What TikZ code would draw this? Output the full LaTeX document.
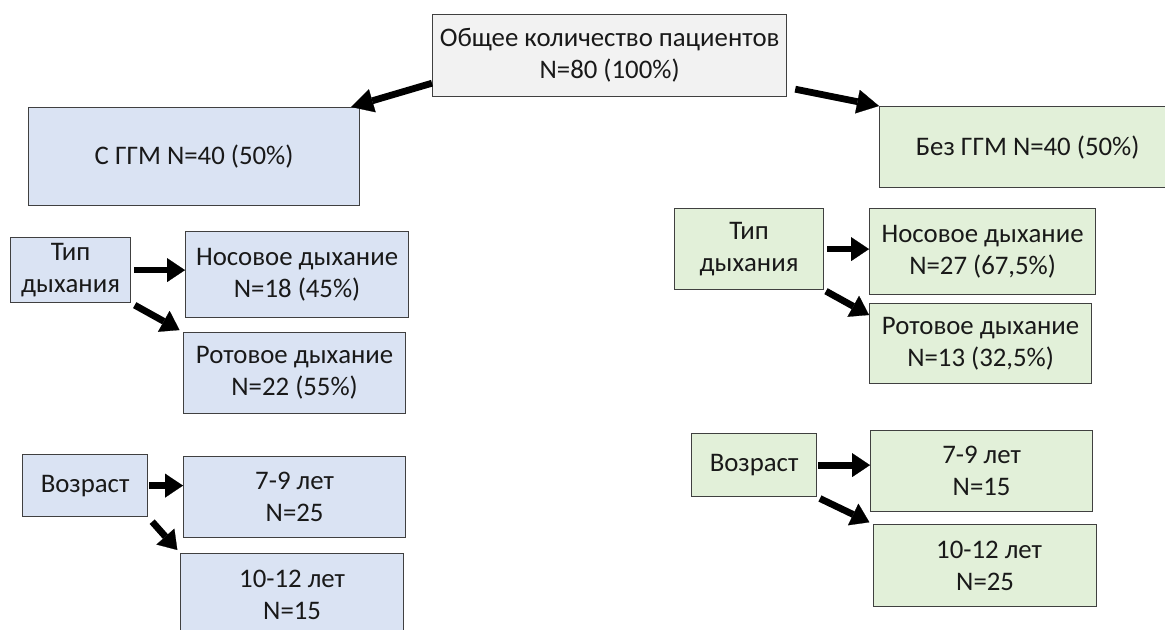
\documentclass[tikz,border=0pt]{standalone}
\usepackage{fontspec}
\setmainfont{Carlito}
\usetikzlibrary{arrows.meta, positioning}
\definecolor{ggmblue}{RGB}{218, 227, 243}
\definecolor{noggmgreen}{RGB}{226, 240, 217}
\definecolor{totalgray}{RGB}{242, 242, 242}
\definecolor{edgegray}{RGB}{64, 64, 64}
\tikzset{
    flowbox/.style={draw=edgegray, rectangle, anchor=north west, font=\fontsize{13.4pt}{16pt}\selectfont, align=center, inner sep=1pt, line width=0.6pt, text=black!90},
    ggmbox/.style={flowbox, fill=ggmblue},
    noggmbox/.style={flowbox, fill=noggmgreen},
    totalbox/.style={flowbox, fill=totalgray},
    splitarrow/.style={-{Triangle[length=9pt, width=12pt, line width=0.1pt]}, line width=3.4pt},
    mainarrow/.style={-{Triangle[length=11pt, width=12pt, line width=0.1pt]}, line width=3.4pt},
}

\begin{document}
\begin{tikzpicture}[x=0.5pt, y=-0.5pt]
                \useasboundingbox (0,0) rectangle (1165,630);
                % Top level
                \node[totalbox, minimum width=177pt, minimum height=41pt] (total) at (432,14)
                      {Общее количество пациентов\\N=80 (100\%)};
                \node[ggmbox, minimum width=165.5pt, minimum height=49pt] (ggm) at (28,107)
                      {С ГГМ N=40 (50\%)};
                \node[noggmbox, minimum width=148pt, minimum height=40.5pt] (noggm) at (879,106)
                      {Без ГГМ N=40 (50\%)};
                
                % With GGM
                \node[ggmbox, minimum width=60pt, minimum height=32.5pt] (tipL) at (10,237)
                      {Тип\\дыхания};
                \node[ggmbox, minimum width=111.5pt, minimum height=43pt] (nosL) at (185,231)
                      {Носовое дыхание\\N=18 (45\%)};
                \node[ggmbox, minimum width=111pt, minimum height=40.5pt] (rotL) at (183,332)
                      {Ротовое дыхание\\N=22 (55\%)};
                \node[ggmbox, minimum width=62.5pt, minimum height=31pt] (vozL) at (22,454)
                      {Возраст};
                \node[ggmbox, minimum width=111pt, minimum height=40.5pt] (ageAL) at (183,456)
                      {7-9 лет\\N=25};
                \node[ggmbox, minimum width=111.5pt, minimum height=41pt] (ageBL) at (180,553)
                      {10-12 лет\\N=15};
                
                % Without GGM
                \node[noggmbox, minimum width=74.5pt, minimum height=40.5pt] (tipR) at (674,208)
                      {Тип\\дыхания};
                \node[noggmbox, minimum width=113pt, minimum height=43pt] (nosR) at (869,208)
                      {Носовое дыхание\\N=27 (67,5\%)};
                \node[noggmbox, minimum width=111pt, minimum height=40pt] (rotR) at (869,303)
                      {Ротовое дыхание\\N=13 (32,5\%)};
                \node[noggmbox, minimum width=62.5pt, minimum height=31.5pt] (vozR) at (691,433)
                      {Возраст};
                \node[noggmbox, minimum width=111pt, minimum height=40.5pt] (ageAR) at (870,430)
                      {7-9 лет\\N=15};
                \node[noggmbox, minimum width=111.5pt, minimum height=41pt] (ageBR) at (873,524)
                      {\hspace*{4pt}10-12 лет\\N=25};
                
                \draw[mainarrow] ([yshift=7pt]total.south west) -- ([xshift=-4.5pt]ggm.north east);
                \draw[mainarrow] ([xshift=4pt, yshift=4pt]total.south east) -- (noggm.north west);
                
                \draw[splitarrow, shorten <=1.5pt] (tipL.east) -- (tipL.east -| nosL.west);
                \draw[splitarrow, shorten <=2pt, shorten >=2pt] (tipL.south east) -- (rotL.north west);
                \draw[splitarrow, shorten <=0.5pt] (vozL.east) -- (vozL.east -| ageAL.west);
                \draw[splitarrow, shorten <=3pt, shorten >=2pt] (vozL.south east) -- (ageBL.north west);
                
                \draw[splitarrow, shorten <=1.5pt] (tipR.east) -- (tipR.east -| nosR.west);
                \draw[splitarrow, shorten <=1pt] (tipR.south east) -- ([yshift=-6pt]rotR.north west);
                \draw[splitarrow, shorten <=0.5pt] (vozR.east) -- (vozR.east -| ageAR.west);
                \draw[splitarrow, shorten <=1.5pt, shorten >=2pt] (vozR.south east) -- (ageBR.north west);
            \end{tikzpicture}
\end{document}
